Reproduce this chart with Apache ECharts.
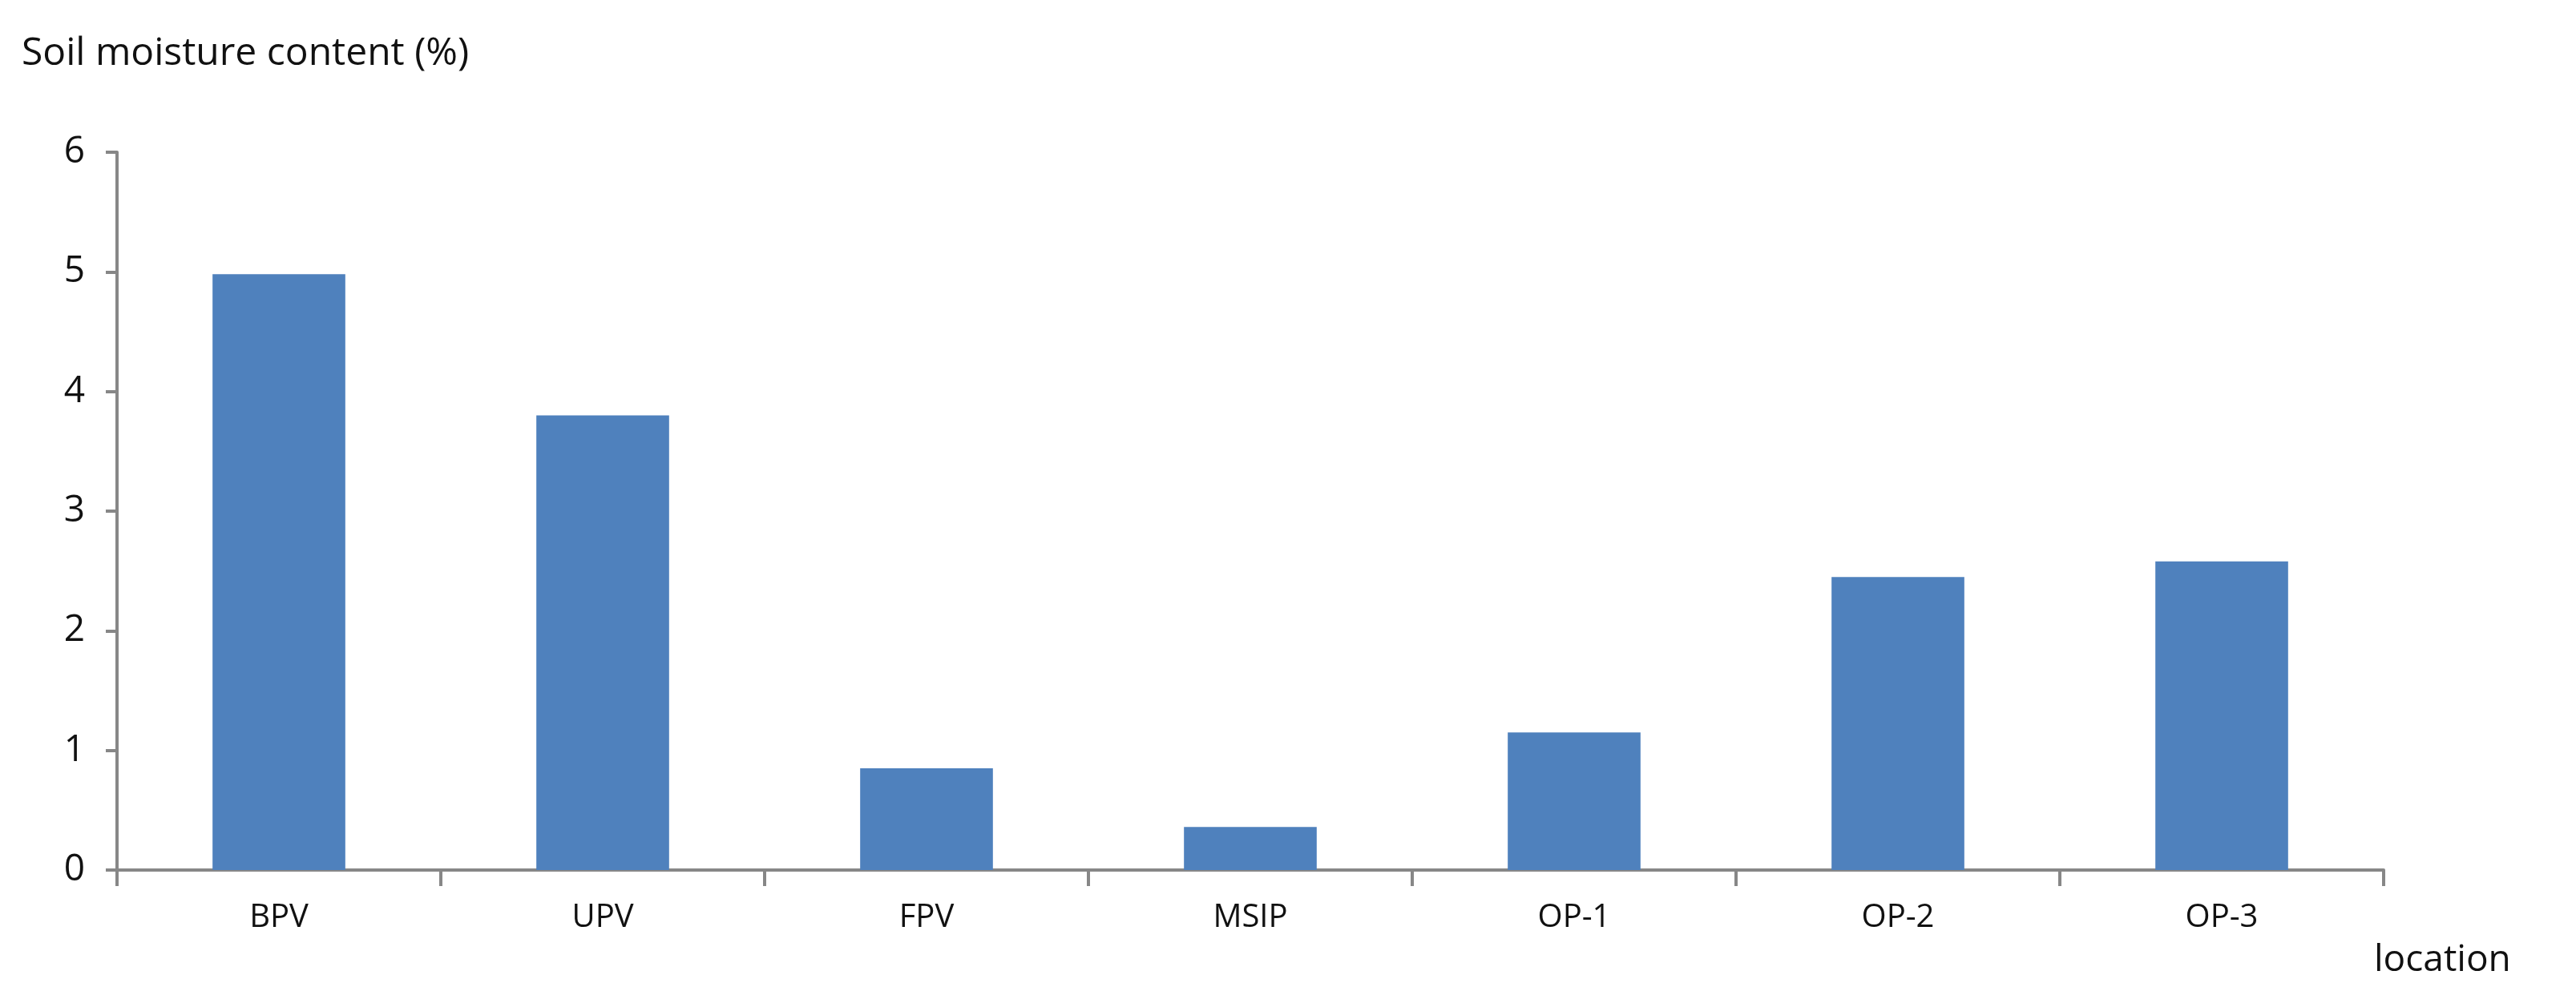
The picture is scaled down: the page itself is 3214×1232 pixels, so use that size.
<!DOCTYPE html>
<html>
<head>
<meta charset="utf-8">
<script src="https://cdn.jsdelivr.net/npm/echarts@6/dist/echarts.min.js"></script>
<style>html,body{margin:0;padding:0;background:#fff}#chart{width:3214px;height:1232px}</style>
</head>
<body>
<div id="chart"></div>
<script>
var locations = ['BPV', 'UPV', 'FPV', 'MSIP', 'OP-1', 'OP-2', 'OP-3'];
var moisture = [4.98, 3.80, 0.85, 0.36, 1.15, 2.45, 2.58];
var yTicks = [0, 1, 2, 3, 4, 5, 6];

var myChart = echarts.init(document.getElementById('chart'));
var font = '"Open Sans", "Liberation Sans", sans-serif';
var axisColor = '#878787';

myChart.setOption({
    backgroundColor: '#fff',
    animation: false,
    title: {
        text: 'Soil moisture content (%)',
        left: 22, top: 38,
        textStyle: { fontFamily: font, fontWeight: 'normal', fontSize: 48, color: '#111' }
    },
    grid: { left: 146, right: 240, top: 190, bottom: 146 },
    xAxis: {
        type: 'category',
        data: locations,
        name: 'location',
        nameLocation: 'end',
        nameGap: -12,
        nameTextStyle: {
            fontFamily: font, fontSize: 46, color: '#111',
            align: 'left', verticalAlign: 'top', padding: [90, 0, 0, 0]
        },
        axisLine: { lineStyle: { color: axisColor, width: 4 } },
        axisTick: { show: true, length: 20, alignWithLabel: false, lineStyle: { color: axisColor, width: 4 } },
        axisLabel: { fontFamily: font, fontSize: 40, color: '#111', margin: 40 }
    },
    yAxis: {
        type: 'value',
        min: yTicks[0], max: yTicks[yTicks.length - 1], interval: 1,
        axisLine: { show: true, lineStyle: { color: axisColor, width: 4 } },
        axisTick: { show: true, length: 14, lineStyle: { color: axisColor, width: 4 } },
        splitLine: { show: false },
        axisLabel: { fontFamily: font, fontSize: 46, color: '#111', margin: 40 }
    },
    series: [{
        type: 'bar',
        data: moisture,
        barWidth: '41%',
        itemStyle: { color: '#4F81BD' }
    }]
});
</script>
</body>
</html>
